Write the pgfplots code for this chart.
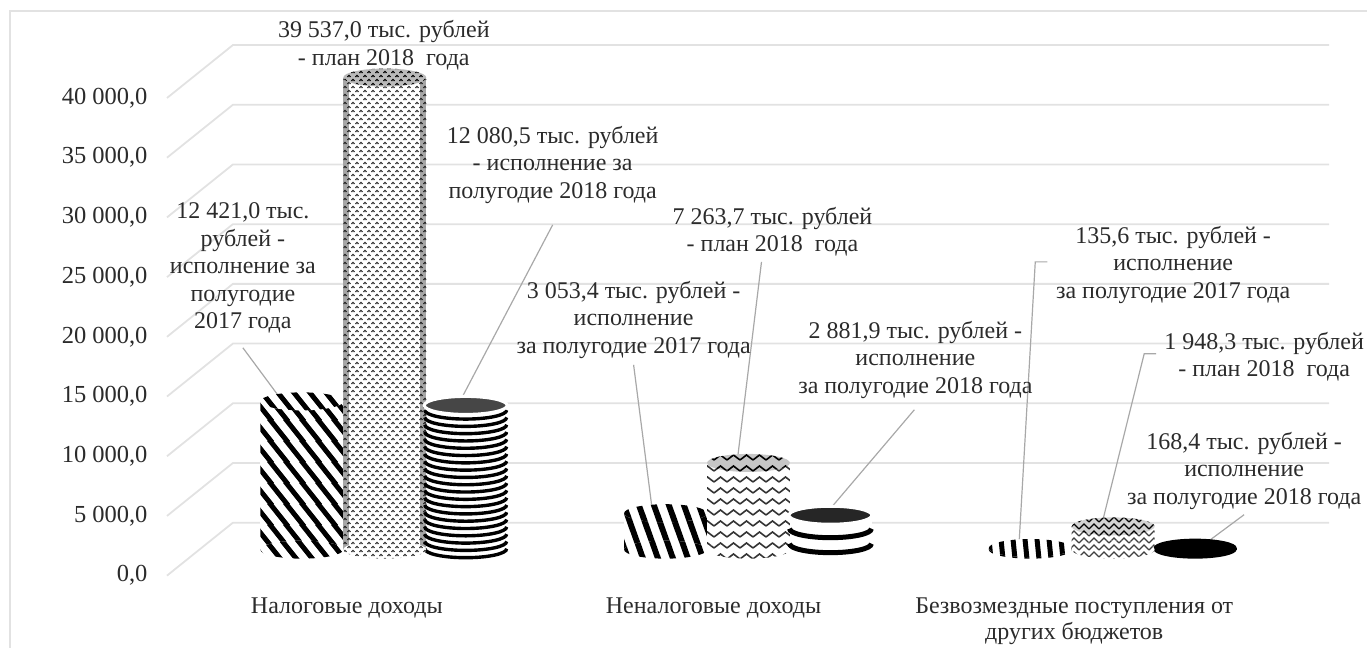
\documentclass[border=0pt]{standalone}
\usepackage{pgfplots}
\pgfplotsset{compat=1.18}
\usepackage{fontspec}
\setmainfont{Liberation Serif}
\usetikzlibrary{patterns}
\definecolor{txt}{HTML}{2B2B2B}
\definecolor{gridc}{HTML}{E2E2E2}
\definecolor{lead}{HTML}{A8A8A8}
% striped patterns
\pgfdeclarepatternformonly{pA}{\pgfqpoint{0pt}{0pt}}{\pgfqpoint{16pt}{20.5pt}}{\pgfqpoint{16pt}{20.5pt}}{%
  \pgfsetlinewidth{5pt}%
  \pgfpathmoveto{\pgfqpoint{-32pt}{41pt}}\pgfpathlineto{\pgfqpoint{16pt}{-20.5pt}}%
  \pgfpathmoveto{\pgfqpoint{-16pt}{41pt}}\pgfpathlineto{\pgfqpoint{32pt}{-20.5pt}}%
  \pgfpathmoveto{\pgfqpoint{0pt}{41pt}}\pgfpathlineto{\pgfqpoint{48pt}{-20.5pt}}\pgfusepathqstroke}
\pgfdeclarepatternformonly{pB}{\pgfqpoint{0pt}{0pt}}{\pgfqpoint{15.4pt}{42.4pt}}{\pgfqpoint{15.4pt}{42.4pt}}{%
  \pgfsetlinewidth{6pt}%
  \pgfpathmoveto{\pgfqpoint{-30.8pt}{84.8pt}}\pgfpathlineto{\pgfqpoint{15.4pt}{-42.4pt}}%
  \pgfpathmoveto{\pgfqpoint{-15.4pt}{84.8pt}}\pgfpathlineto{\pgfqpoint{30.8pt}{-42.4pt}}%
  \pgfpathmoveto{\pgfqpoint{0pt}{84.8pt}}\pgfpathlineto{\pgfqpoint{46.2pt}{-42.4pt}}\pgfusepathqstroke}
\pgfdeclarepatternformonly{pC}{\pgfqpoint{0pt}{0pt}}{\pgfqpoint{12pt}{40pt}}{\pgfqpoint{12pt}{40pt}}{%
  \pgfsetlinewidth{5pt}%
  \pgfpathmoveto{\pgfqpoint{-11pt}{80pt}}\pgfpathlineto{\pgfqpoint{1pt}{-40pt}}%
  \pgfpathmoveto{\pgfqpoint{1pt}{80pt}}\pgfpathlineto{\pgfqpoint{13pt}{-40pt}}%
  \pgfpathmoveto{\pgfqpoint{13pt}{80pt}}\pgfpathlineto{\pgfqpoint{25pt}{-40pt}}\pgfusepathqstroke}
% wave patterns
\pgfdeclarepatternformonly{waveS}{\pgfqpoint{0pt}{0pt}}{\pgfqpoint{8pt}{8pt}}{\pgfqpoint{8pt}{8pt}}{%
  \pgfsetlinewidth{1.1pt}%
  \pgfpathmoveto{\pgfqpoint{0.5pt}{1pt}}\pgfpathlineto{\pgfqpoint{2pt}{2.6pt}}\pgfpathlineto{\pgfqpoint{3.5pt}{1pt}}%
  \pgfpathmoveto{\pgfqpoint{4.5pt}{5pt}}\pgfpathlineto{\pgfqpoint{6pt}{6.6pt}}\pgfpathlineto{\pgfqpoint{7.5pt}{5pt}}\pgfusepathqstroke}
\pgfdeclarepatternformonly{waveB}{\pgfqpoint{0pt}{0pt}}{\pgfqpoint{13pt}{11pt}}{\pgfqpoint{13pt}{11pt}}{%
  \pgfsetlinewidth{1.6pt}\pgfpathmoveto{\pgfqpoint{0pt}{2pt}}\pgfpathlineto{\pgfqpoint{6.5pt}{7pt}}\pgfpathlineto{\pgfqpoint{13pt}{2pt}}\pgfusepathqstroke}
\pgfdeclarepatternformonly{waveF}{\pgfqpoint{0pt}{0pt}}{\pgfqpoint{10pt}{7pt}}{\pgfqpoint{10pt}{7pt}}{%
  \pgfsetlinewidth{1.1pt}\pgfpathmoveto{\pgfqpoint{0pt}{1pt}}\pgfpathlineto{\pgfqpoint{5pt}{6pt}}\pgfpathlineto{\pgfqpoint{10pt}{1pt}}\pgfusepathqstroke}
\pgfdeclareplotmark{arcst}{\pgfpathmoveto{\pgfqpoint{-41pt}{0pt}}\pgfpatharc{180}{360}{41pt and 9pt}\pgfusepathqstroke}
\newcommand\capE{\pgfpathellipse{\pgfpointorigin}{\pgfqpoint{41.5pt}{0pt}}{\pgfqpoint{0pt}{9pt}}}
\newcommand\defcap[4]{\pgfdeclareplotmark{cap#1}{\pgfsetfillcolor{#4}\capE\pgfusepathqfill\pgfsetfillpattern{#2}{#3}\capE\pgfusepathqfill}}
\defcap{A}{pA}{black}{white}
\defcap{B}{pB}{black}{white}
\defcap{C}{pC}{black}{white}
\defcap{S}{waveS}{black!80}{white}
\defcap{W}{waveB}{black!80}{white}
\defcap{F}{waveF}{black!75}{white}
\defcap{T}{waveS}{black}{gray!55}
\defcap{U}{waveB}{black}{gray!45}
\defcap{V}{waveF}{black}{gray!35}
\pgfdeclareplotmark{capP}{\pgfsetfillcolor{white}\capE\pgfusepathqfill}
\pgfdeclareplotmark{capK}{\pgfsetfillcolor{black}\capE\pgfusepathqfill}
\pgfdeclareplotmark{capR}{\pgfsetfillcolor{gray!55!black}\pgfsetstrokecolor{white}\pgfsetlinewidth{3pt}\capE\pgfusepathqfillstroke}
\pgfdeclareplotmark{capQ}{\pgfsetfillcolor{black!85}\pgfsetstrokecolor{white}\pgfsetlinewidth{3pt}\capE\pgfusepathqfillstroke}
\tikzset{
  bA/.style={fill=white,postaction={pattern=pA,pattern color=black}},
  bB/.style={fill=white,postaction={pattern=pB,pattern color=black}},
  bC/.style={fill=white,postaction={pattern=pC,pattern color=black}},
  bS/.style={fill=white,postaction={pattern=waveS,pattern color=black!80}},
  bW/.style={fill=white,postaction={pattern=waveB,pattern color=black!80}},
  bF/.style={fill=white,postaction={pattern=waveF,pattern color=black!75}},
  bP/.style={fill=white},
  bK/.style={fill=black},
  lab/.style={font=\fontsize{24}{27.5}\selectfont,text=txt,align=center,anchor=center,inner sep=0pt},
  gridl/.style={draw=gridc,line width=1.8pt},
  ldr/.style={draw=lead,line width=1.2pt}
}
\newcommand\px[2]{(rel axis cs:\fpeval{round(#1/1368,5)},\fpeval{round(1-(#2)/648,5)})}
% x, value, letter of body and cap
\newcommand\cylbody[3]{%
  \addplot[forget plot,only marks,mark=cap#3] coordinates {(#1,0)};
  \addplot[forget plot,ybar,bar width=83pt,bar shift=0pt,draw=none,b#3] coordinates {(#1,#2)};
}
\newcommand\cyltop[3]{%
  \addplot[forget plot,only marks,mark=cap#3] coordinates {(#1,#2)};
}
\newcommand\cyledge[2]{%
  \addplot[forget plot,ybar,bar width=6pt,bar shift=-38.5pt,draw=none,fill=black,fill opacity=.35] coordinates {(#1,#2)};
  \addplot[forget plot,ybar,bar width=6pt,bar shift=38.5pt,draw=none,fill=black,fill opacity=.35] coordinates {(#1,#2)};
}
\begin{document}
\begin{tikzpicture}
\begin{axis}[
  width=1368pt,height=648pt,scale only axis,
  xmin=0,xmax=1368,ymin=-8200.8,ymax=46025.1,
  axis line style={draw=none},major tick length=0pt,
  scaled ticks=false,
  xtick={347,714,1075},
  xticklabels={{Налоговые доходы},{Неналоговые доходы},{Безвозмездные поступления от\\других бюджетов}},
  xticklabel style={font=\fontsize{24}{26}\selectfont,text=txt,align=center,anchor=north,yshift=53pt},
  ytick={-2176,2824,7824,12824,17824,22824,27824,32824,37824},
  yticklabels={{0,0},{5 000,0},{10 000,0},{15 000,0},{20 000,0},{25 000,0},{30 000,0},{35 000,0},{40 000,0}},
  yticklabel style={font=\fontsize{24.5}{27}\selectfont,text=txt,anchor=east,xshift=151pt},
  clip=false
]
% frame and back wall
\draw[draw=gridc,line width=2pt] \px{10}{648} -- \px{10}{11} -- \px{1368}{11};
\pgfplotsinvokeforeach{0,1,...,8}{%
  \draw[gridl] \px{167}{\fpeval{576-#1*59.75}} -- \px{233}{\fpeval{523-#1*59.75}} -- \px{1330}{\fpeval{523-#1*59.75}};
}
% Налоговые доходы
\cylbody{302}{12421.0}{A}
\cyltop{302}{12421.0}{A}
\cylbody{466}{12080.5}{P}
\addplot[forget plot,only marks,mark=arcst,mark options={draw=black,line width=3.4pt}] coordinates {
(466,80)(466,691)(466,1302)(466,1913)(466,2524)(466,3135)(466,3746)(466,4357)(466,4968)(466,5579)
(466,6190)(466,6801)(466,7412)(466,8023)(466,8634)(466,9245)(466,9856)(466,10467)(466,11078)(466,11689)};
\cyltop{466}{12080.5}{R}
\cylbody{385}{39537.0}{S}
\cyledge{385}{39537.0}
\cyltop{385}{39537.0}{T}
% Неналоговые доходы
\cylbody{666}{3053.4}{B}
\cyltop{666}{3053.4}{B}
\cylbody{831}{2881.9}{P}
\addplot[forget plot,only marks,mark=arcst,mark options={draw=black,line width=5pt}] coordinates {(831,502)(831,1757)};
\cyltop{831}{2881.9}{Q}
\cylbody{749}{7263.7}{W}
\cyltop{749}{7263.7}{U}
% Безвозмездные поступления
\cylbody{1031}{135.6}{C}
\cyltop{1031}{135.6}{C}
\cylbody{1196}{168.4}{K}
\cyltop{1196}{168.4}{K}
\cylbody{1114}{1948.3}{F}
\cyltop{1114}{1948.3}{V}
% leaders
\draw[ldr] \px{243}{348} -- \px{280}{398};
\draw[ldr] \px{553}{225} -- \px{460}{402};
\draw[ldr] \px{634}{365} -- \px{652}{505};
\draw[ldr] \px{762}{262} -- \px{738}{459};
\draw[ldr] \px{915}{410} -- \px{830}{510};
\draw[ldr] \px{1048}{262} -- \px{1036}{262} -- \px{1020}{540};
\draw[ldr] \px{1157}{354} -- \px{1145}{354} -- \px{1103}{523};
\draw[ldr] \px{1245}{515} -- \px{1210}{541};
% labels
\node[lab] at \px{384}{45} {39 537,0 тыс. рублей\\- план 2018 \ года};
\node[lab] at \px{243}{268} {12 421,0 тыс.\\рублей -\\исполнение за\\полугодие\\2017 года};
\node[lab] at \px{553}{165} {12 080,5 тыс. рублей\\- исполнение за\\полугодие 2018 года};
\node[lab] at \px{773}{232} {7 263,7 тыс. рублей\\- план 2018 \ года};
\node[lab] at \px{634}{320} {3 053,4 тыс. рублей -\\исполнение\\за полугодие 2017 года};
\node[lab] at \px{916}{360} {2 881,9 тыс. рублей -\\исполнение\\за полугодие 2018 года};
\node[lab] at \px{1174}{265} {135,6 тыс. рублей -\\исполнение\\за полугодие 2017 года};
\node[lab] at \px{1265}{357} {1 948,3 тыс. рублей\\- план 2018 \ года};
\node[lab] at \px{1245}{471} {168,4 тыс. рублей -\\исполнение\\за полугодие 2018 года};
\end{axis}
\end{tikzpicture}
\end{document}
